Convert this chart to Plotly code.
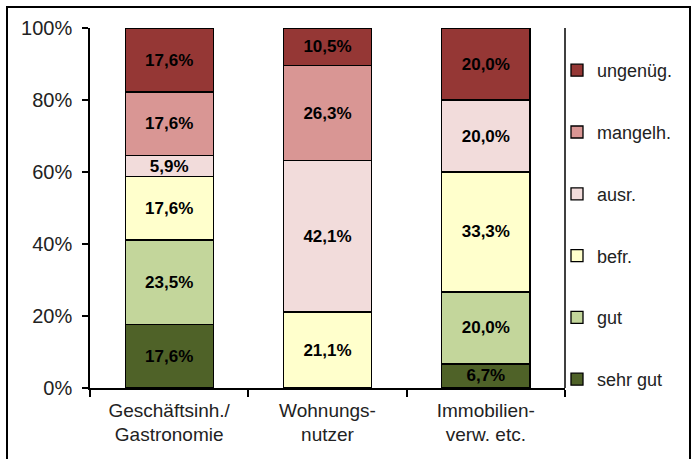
import plotly.graph_objects as go

categories = ["Geschäftsinh./<br>Gastronomie", "Wohnungs-<br>nutzer", "Immobilien-<br>verw. etc."]
series_names = ["sehr gut", "gut", "befr.", "ausr.", "mangelh.", "ungenüg."]
sehr_gut = [17.6, 0.0, 6.7]
gut = [23.5, 0.0, 20.0]
befr = [17.6, 21.1, 33.3]
ausr = [5.9, 42.1, 20.0]
mangelh = [17.6, 26.3, 0.0]
ungenueg = [17.6, 10.5, 20.0]
colors = ["#4F6228", "#C3D69B", "#FFFFCC", "#F2DCDB", "#D99694", "#953735"]
yticks = [0, 20, 40, 60, 80, 100]
ytick_labels = ["0%", "20%", "40%", "60%", "80%", "100%"]

all_series = [sehr_gut, gut, befr, ausr, mangelh, ungenueg]

W, H = 698, 459
L, R, T, B = 90, 565, 28, 388

fig = go.Figure()
n = len(series_names)
for i, (name, vals, col) in enumerate(zip(series_names, all_series, colors)):
    txt = [("%.1f%%" % v).replace(".", ",") if v > 0 else "" for v in vals]
    fig.add_trace(go.Bar(
        x=categories, y=vals, name=name, legendgroup=name, legendrank=n - i,
        marker=dict(color=col, line=dict(color="black", width=1.3)),
        text=txt, textposition="inside", insidetextanchor="middle",
        textangle=0,
        textfont=dict(family="Liberation Sans, Arial", size=17, color="black", weight="bold"),
        constraintext="none",
        hoverinfo="skip",
    ))

fig.update_layout(
    width=W, height=H,
    margin=dict(l=L, r=W - R, t=T, b=H - B, pad=0),
    barmode="stack", bargap=0.444,
    plot_bgcolor="white", paper_bgcolor="white",
    font=dict(family="Liberation Sans, Arial", color="#222222", size=18),
    uniformtext=dict(mode=False),
    showlegend=True,
    legend=dict(
        x=(557 - L) / (R - L), xanchor="left",
        y=(B - 52) / (B - T), yanchor="top",
        traceorder="grouped", tracegroupgap=35.4,
        font=dict(size=18, color="#222222"),
        itemwidth=30, bgcolor="rgba(0,0,0,0)",
    ),
    xaxis=dict(
        showline=True, linecolor="black", linewidth=1.5,
        ticks="outside", tickson="boundaries", ticklen=7, tickcolor="black", tickwidth=1.5,
        tickfont=dict(size=19, color="#222222"),
        ticklabelstandoff=4,
        showgrid=False,
    ),
    yaxis=dict(
        range=[0, 100], tickvals=yticks, ticktext=ytick_labels,
        showline=True, linecolor="black", linewidth=1.5,
        ticks="outside", ticklen=6, tickcolor="black", tickwidth=1.5,
        tickfont=dict(size=20, color="#222222"),
        ticklabelstandoff=6,
        showgrid=False, zeroline=False,
    ),
)

# right frame line of plot area
fig.add_shape(type="line", xref="paper", yref="paper", x0=1, x1=1, y0=0, y1=1,
              line=dict(color="black", width=1.5))
# outer chart border
pw, ph = R - L, B - T
fig.add_shape(type="rect", xref="paper", yref="paper",
              x0=(7 - L) / pw, x1=(690 - L) / pw,
              y0=(B - 475) / ph, y1=(B - 7) / ph,
              line=dict(color="black", width=2), fillcolor="rgba(0,0,0,0)")

fig.write_html("out.html", config={"displayModeBar": False},
               post_script="document.body.style.margin='0';")
